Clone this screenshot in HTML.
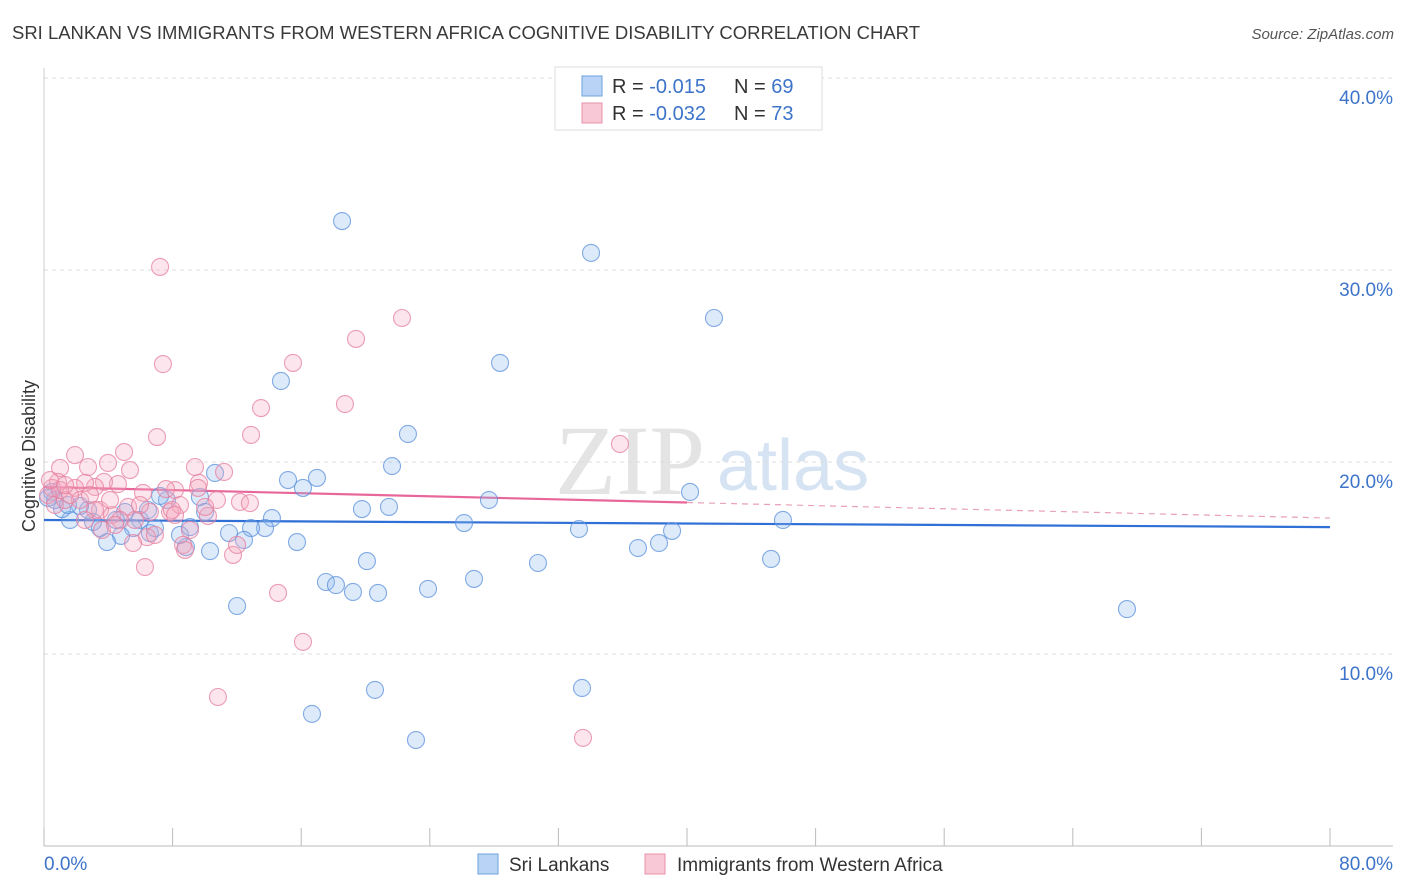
<!DOCTYPE html>
<html><head><meta charset="utf-8"><style>
body{margin:0;background:#fff;font-family:"Liberation Sans",sans-serif;}
svg{display:block}
</style></head><body>
<svg id="chart" width="1406" height="892">
<text x="12" y="39" font-size="18" textLength="908" lengthAdjust="spacingAndGlyphs" fill="#3a3a3a">SRI LANKAN VS IMMIGRANTS FROM WESTERN AFRICA COGNITIVE DISABILITY CORRELATION CHART</text>
<text x="1394" y="39" font-size="15" fill="#555" font-style="italic" text-anchor="end">Source: ZipAtlas.com</text>
<g>
<text x="555" y="494" font-size="100" fill="#e4e4e4" font-family="Liberation Serif,serif">ZIP</text>
<text x="717" y="490" font-size="72" fill="#d6e3f3">atlas</text>
</g>
<g id="grid"></g>
<g id="axes"></g>
<g id="lines"></g>
<g id="pts"></g>
<text x="35" y="456" font-size="18" fill="#333" text-anchor="middle" transform="rotate(-90 35 456)">Cognitive Disability</text>
<g>
<rect x="555" y="67" width="267" height="63" fill="#fff" stroke="#ddd"/>
<rect x="582" y="76" width="20" height="20" fill="#b8d3f5" stroke="#6fa0e0"/>
<rect x="582" y="103" width="20" height="20" fill="#f9c8d6" stroke="#e890a8"/>
<text x="612" y="93" font-size="20" fill="#333">R = <tspan fill="#3d74c9">-0.015</tspan></text>
<text x="734" y="93" font-size="20" fill="#333">N = <tspan fill="#3d74c9">69</tspan></text>
<text x="612" y="120" font-size="20" fill="#333">R = <tspan fill="#3d74c9">-0.032</tspan></text>
<text x="734" y="120" font-size="20" fill="#333">N = <tspan fill="#3d74c9">73</tspan></text>
</g>
<g>
<rect x="478" y="854" width="20" height="20" fill="#b8d3f5" stroke="#6fa0e0"/>
<text x="509" y="871" font-size="19" fill="#333">Sri Lankans</text>
<rect x="645" y="854" width="20" height="20" fill="#f9c8d6" stroke="#e890a8"/>
<text x="677" y="871" font-size="19" fill="#333">Immigrants from Western Africa</text>
</g>
</svg>
<script>
const yTicks=[10,20,30,40];
const yTickLabels=["10.0%","20.0%","30.0%","40.0%"];
const xTicks=[0,8,16,24,32,40,48,56,64,72,80];
const blueX=[18.54,34.03,41.68,28.37,14.74,22.64,21.65,15.18,16.98,16.11,10.64,27.68,40.19,45.97,19.78,21.46,26.13,33.28,36.95,38.26,39.07,15.74,20.09,17.54,18.16,19.22,20.78,23.89,26.75,30.73,45.23,12.01,67.37,16.67,20.59,33.47,23.14,14.18,13.75,12.88,12.44,11.51,10.33,8.83,8.46,7.65,7.22,6.59,5.97,5.54,4.79,3.92,3.48,3.05,2.74,2.24,1.62,1.12,0.68,0.5,0.25,9.7,10.02,9.08,6.9,6.47,5.04,4.48,1.49];
const blueY=[32.55,30.89,27.5,25.16,24.22,21.46,19.79,19.06,19.17,18.65,19.43,18.02,18.44,16.98,17.55,17.66,16.82,16.51,15.52,15.78,16.41,15.83,14.84,13.75,13.59,13.23,13.18,13.39,13.91,14.74,14.95,12.5,12.34,6.88,8.13,8.23,5.52,17.08,16.56,16.56,15.94,16.3,15.36,15.57,16.2,18.02,18.23,16.3,16.98,16.56,16.15,15.83,16.56,16.88,17.5,17.71,16.98,17.55,18.02,18.44,18.13,18.18,17.4,16.61,16.56,17.5,17.4,16.98,17.76];
const pinkX=[7.22,7.4,15.49,22.27,19.41,18.72,13.5,12.88,35.83,7.03,1.93,1.0,2.74,3.98,4.98,9.39,11.2,10.76,12.19,12.81,9.64,8.15,7.59,6.16,4.6,3.73,3.17,2.55,1.93,0.87,0.5,0.25,0.68,1.31,2.24,3.48,4.23,5.23,5.66,6.59,7.84,8.46,8.65,10.2,9.08,6.41,5.54,4.73,3.61,11.76,12.01,14.56,16.11,10.82,33.53,6.28,8.77,7.96,9.58,1.0,1.62,2.86,5.97,6.9,10.02,3.17,4.11,5.35,0.37,8.15,1.31,2.55,4.42];
const pinkY=[30.16,25.1,25.16,27.5,26.41,23.02,22.81,21.41,20.94,21.3,20.36,19.69,19.74,19.95,20.52,19.74,19.48,18.02,17.92,17.86,18.91,18.54,18.59,18.39,18.85,18.96,18.7,18.91,18.65,18.96,18.65,18.28,17.76,18.02,18.02,17.5,17.24,17.66,16.98,17.4,17.4,17.76,15.68,17.19,16.46,16.09,15.78,16.98,16.46,15.16,15.68,13.18,10.63,7.76,5.63,14.53,15.42,17.5,18.65,18.54,18.28,18.28,17.76,16.2,17.66,17.5,18.02,19.58,19.06,17.24,18.8,16.98,16.72];
const blueTrend=[16.98,16.61];
const pinkTrend=[18.7,17.08];
const pinkSolidEnd=40;

const NS="http://www.w3.org/2000/svg";
const X0=44,X1=1330,Y0=846,PXY=19.2;
const sx=v=>X0+(X1-X0)*v/80;
const sy=v=>Y0-v*PXY;
function mk(tag,attrs,parent){const e=document.createElementNS(NS,tag);for(const k in attrs)e.setAttribute(k,attrs[k]);document.getElementById(parent).appendChild(e);return e;}

yTicks.forEach((t,i)=>{
 const g=mk('line',{x1:X0,x2:1393,y1:sy(t),y2:sy(t),stroke:'#ddd','stroke-dasharray':'4,4'},'grid');
 
 
 const l=mk('text',{x:1393,y:sy(t)+26,'font-size':19,fill:'#3d74c9','text-anchor':'end'},'axes');
 l.textContent=yTickLabels[i];
 
 
});
const ax=mk('line',{x1:X0,x2:1393,y1:Y0,y2:Y0,stroke:'#bbb'},'axes');


const ay=mk('line',{x1:X0,x2:X0,y1:68,y2:Y0,stroke:'#ccc'},'axes');


xTicks.forEach(t=>{
 const e=mk('line',{x1:sx(t),x2:sx(t),y1:828,y2:Y0,stroke:'#bbb'},'axes');
 
 
});
const xl0=mk('text',{x:X0,y:870,'font-size':19,fill:'#3d74c9'},'axes');xl0.textContent='0.0%';


const xl1=mk('text',{x:1393,y:870,'font-size':19,fill:'#3d74c9','text-anchor':'end'},'axes');xl1.textContent='80.0%';



function pts(xs,ys,fill,stroke,name){
 xs.forEach((x,i)=>{
  const c=mk('circle',{cx:sx(x),cy:sy(ys[i]),r:8.5,fill:fill,'fill-opacity':0.3,stroke:stroke,'stroke-width':1.1,'stroke-opacity':0.75},'pts');
  
  
 });
}
pts(blueX,blueY,'#8fb8ee','#5b90dc','point-sri-lankan');
pts(pinkX,pinkY,'#f5a8c0','#e67f9f','point-western-africa');

const bt=mk('line',{x1:sx(0),x2:sx(80),y1:sy(blueTrend[0]),y2:sy(blueTrend[1]),stroke:'#2f6fd6','stroke-width':2.2},'lines');


const pm=pinkTrend[0]+(pinkTrend[1]-pinkTrend[0])*pinkSolidEnd/80;
const ps=mk('line',{x1:sx(0),x2:sx(pinkSolidEnd),y1:sy(pinkTrend[0]),y2:sy(pm),stroke:'#e8679a','stroke-width':2.2},'lines');


const pd=mk('line',{x1:sx(pinkSolidEnd),x2:sx(80),y1:sy(pm),y2:sy(pinkTrend[1]),stroke:'#e8a0b8','stroke-width':1.2,'stroke-dasharray':'6,5'},'lines');


</script>
</body></html>
